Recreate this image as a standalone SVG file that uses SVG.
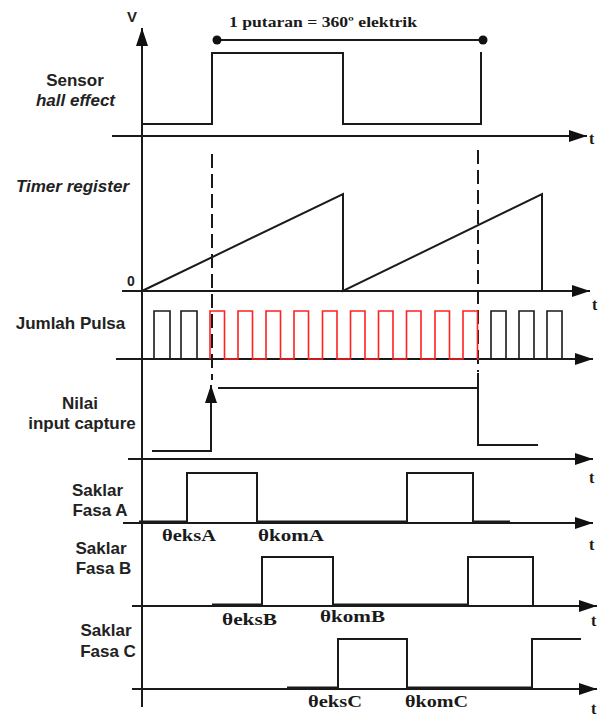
<svg xmlns="http://www.w3.org/2000/svg" width="606" height="717" viewBox="0 0 606 717">
<style>
.ln{fill:none;stroke:#1a1a1a;stroke-width:2}
.pl{fill:none;stroke:#1a1a1a;stroke-width:1.6}
.red{fill:none;stroke:#ff2020;stroke-width:1.6}
.dash{fill:none;stroke:#1a1a1a;stroke-width:2;stroke-dasharray:14 6}
.lab{font-family:"Liberation Sans",Arial,sans-serif;font-weight:bold;font-size:17px;fill:#222;text-anchor:middle}
.it{font-style:italic}
.th{font-family:"Liberation Serif","Times New Roman",serif;font-weight:bold;font-size:17px;fill:#1a1a1a}
.t{font-family:"Liberation Serif","Times New Roman",serif;font-weight:bold;font-size:16px;fill:#1a1a1a}
</style>
<defs>
<marker id="ar" markerUnits="userSpaceOnUse" markerWidth="19" markerHeight="13" refX="18" refY="6" orient="auto">
<path d="M0,0 L18,6 L0,12 z" fill="#111"/>
</marker>
</defs>
<rect width="606" height="717" fill="#fff"/>

<g id="axes">
<path class="ln" d="M142,707 V28" marker-end="url(#ar)"/>
<path class="ln" d="M112,136 H587" marker-end="url(#ar)"/>
<path class="ln" d="M122,291 H590" marker-end="url(#ar)"/>
<path class="ln" d="M116,359 H593" marker-end="url(#ar)"/>
<path class="ln" d="M128,459 H593" marker-end="url(#ar)"/>
<path class="ln" d="M123,523 H593" marker-end="url(#ar)"/>
<path class="ln" d="M132,606 H597" marker-end="url(#ar)"/>
<path class="ln" d="M132,689 H597" marker-end="url(#ar)"/>
<text class="lab" x="132" y="22" style="font-size:15px">V</text>
<text class="t" x="589" y="144">t</text>
<text class="t" x="592" y="310">t</text>
<text class="t" x="589" y="483">t</text>
<text class="t" x="589" y="550">t</text>
<text class="t" x="591" y="626">t</text>
<text class="t" x="591" y="714">t</text>
</g>

<g id="connectors">
<path class="ln" d="M217,40 H483"/>
<circle cx="217" cy="40" r="4.5" fill="#111"/>
<circle cx="483" cy="40" r="4.5" fill="#111"/>
<text class="th" x="229" y="27" style="font-size:15px" textLength="188" lengthAdjust="spacingAndGlyphs">1 putaran = 360º elektrik</text>
<path class="dash" d="M212,154 V380"/>
<path class="dash" d="M478,150 V372"/>
</g>

<g id="sensor">
<text class="lab" x="75" y="86">Sensor</text>
<text class="lab it" x="75.5" y="106">hall effect</text>
<path class="ln" d="M142,124 H212 V53 H343 V124 H481 V52"/>
</g>

<g id="timer">
<text class="lab it" x="72.5" y="192">Timer register</text>
<text class="lab" x="131" y="286" style="font-size:14px">0</text>
<path class="ln" d="M142,291 L343,194 V291 L542,194 V291"/>
</g>

<g id="pulsa">
<text class="lab" x="70.5" y="329">Jumlah Pulsa</text>
<path class="pl" d="M142,359 H154 V311 H170 V359 H181 V311 H197 V359 H210"/>
<path class="red" d="M210,359 V311 H224.5 V359 H238 V311 H252.5 V359 H266 V311 H280.5 V359 H294 V311 H308.5 V359 H322.5 V311 H337 V359 H350.5 V311 H365 V359 H378.5 V311 H393 V359 H406.5 V311 H421 V359 H435 V311 H449.5 V359 H463 V311 H477.5 V359 H479"/>
<path class="pl" d="M479,359 H491 V311 H506 V359 H519 V311 H534 V359 H547 V311 H562 V359"/>
</g>

<g id="capture">
<text class="lab" x="80" y="409">Nilai</text>
<text class="lab" x="82" y="429">input capture</text>
<path class="ln" d="M152,451 H211 V385" marker-end="url(#ar)"/>
<path class="ln" d="M218,388 H478"/>
<path class="ln" d="M478,373 V445 H538"/>
</g>

<g id="fasaA">
<text class="lab" x="97.5" y="496">Saklar</text>
<text class="lab" x="100" y="516">Fasa A</text>
<path class="ln" d="M139,521.5 H187 V473 H257 V521.5 H407 V473 H473 V521.5 H510"/>
<text class="th" x="162" y="541" textLength="54" lengthAdjust="spacingAndGlyphs">θeksA</text>
<text class="th" x="258" y="541" textLength="66" lengthAdjust="spacingAndGlyphs">θkomA</text>
</g>

<g id="fasaB">
<text class="lab" x="101" y="554">Saklar</text>
<text class="lab" x="103.5" y="574">Fasa B</text>
<path class="ln" d="M212,604.5 H262 V557 H333 V604.5 H468 V557 H533 V606"/>
<text class="th" x="222" y="625" textLength="55" lengthAdjust="spacingAndGlyphs">θeksB</text>
<text class="th" x="320" y="622" textLength="65" lengthAdjust="spacingAndGlyphs">θkomB</text>
</g>

<g id="fasaC">
<text class="lab" x="106" y="636">Saklar</text>
<text class="lab" x="108" y="657">Fasa C</text>
<path class="ln" d="M287,687.5 H338 V639 H407 V687.5 H532 V639 H581"/>
<text class="th" x="308" y="707" textLength="54" lengthAdjust="spacingAndGlyphs">θeksC</text>
<text class="th" x="405" y="707" textLength="63" lengthAdjust="spacingAndGlyphs">θkomC</text>
</g>
</svg>
